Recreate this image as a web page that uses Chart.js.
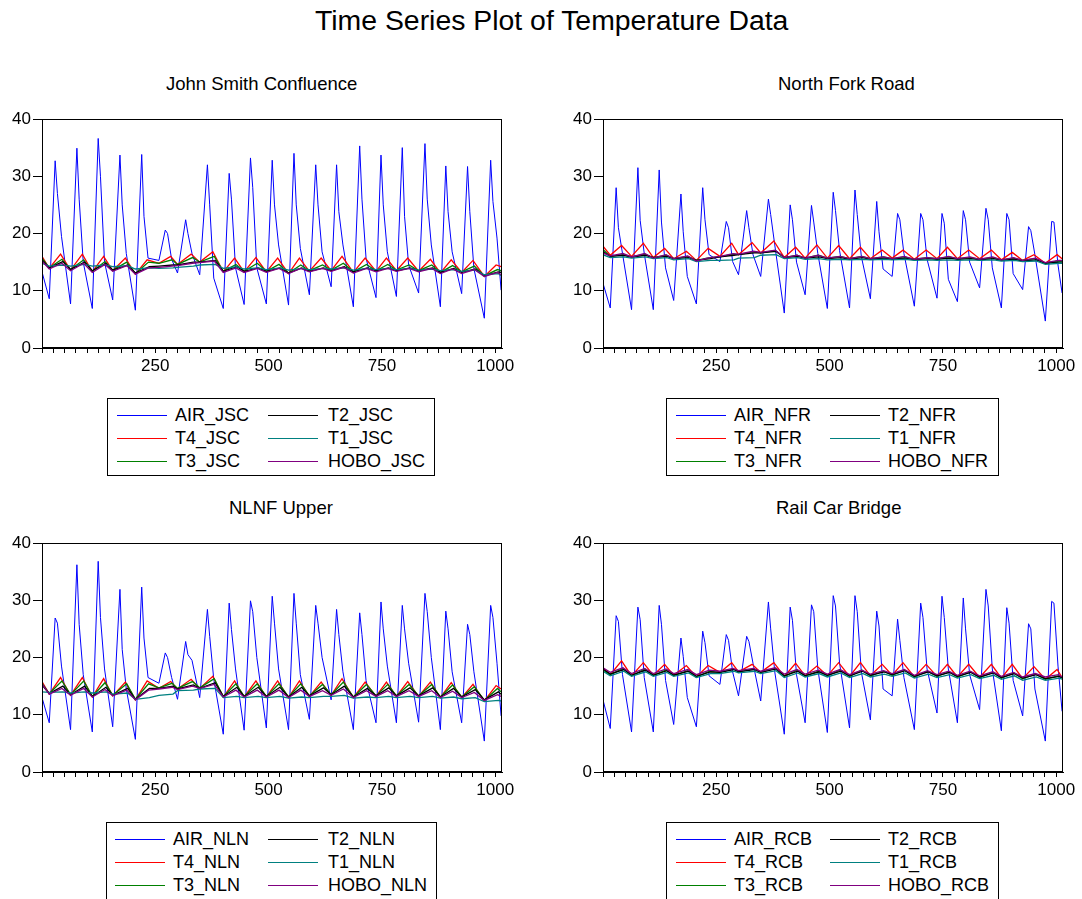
<!DOCTYPE html>
<html><head><meta charset="utf-8">
<script src="https://cdn.jsdelivr.net/npm/chart.js@4.4.0/dist/chart.umd.min.js"></script>
<style>
body{margin:0;background:#fff;width:1082px;height:899px;overflow:hidden;position:relative;font-family:"Liberation Sans",Arial,sans-serif;color:#000}
.t{position:absolute;white-space:nowrap;line-height:1}
canvas{position:absolute}
.leg{position:absolute;border:1px solid #000;box-sizing:border-box;background:#fff}
.ln{position:absolute;height:1px}
.tx{position:absolute;font-size:18px;line-height:18px;white-space:nowrap}
</style></head><body>
<div class="t" style="left:315px;top:6px;font-size:28.4px">Time Series Plot of Temperature Data</div>
<script>
// ---- shared time indices (half-hourly observations) ----
const troughIdx = [16,63,111,156,206,258,299,348,400,446,495,544,590,638,687,737,782,831,879,926,976];
const peakIdx   = [29,77,124,172,220,272,317,365,413,460,508,556,604,650,701,748,795,845,891,939,990];
const lastIdx = 1013;
const xTickLabels = [250,500,750,1000];
const yTickLabels = [0,10,20,30,40];

// ---- John Smith Confluence ----
const jscAirSE = [13.3,10.1];
const jscAirTrough = [8.6,7.7,6.9,8.4,6.6,15.3,13.1,12.8,6.9,7.6,7.7,7.5,9.3,10.7,7.2,8.8,9.0,9.6,7.2,9.5,5.2];
const jscAirPeak = [32.7,34.9,36.6,33.7,33.8,20.6,22.4,32.0,30.5,33.2,32.8,34.0,32.0,32.0,35.3,33.7,35.0,35.7,31.8,31.7,32.8];
const jscAirShoulder = [27,26,30,25,23,20,20,25,26,28,25,25,25,23.8,26,25,23,26,23.8,23.8,25.6];
const jscAirMid = [19.5,15,15,16.5,15.7,15.5,16.5,12.2,14,14,18,17.4,16.8,18,15.7,16.8,14.5,18,16.8,13.9,19.2];
const jscT4SE = [16.0,14.2];
const jscT4Hi = [16.4,16.4,16.0,15.7,15.4,16.0,16.4,16.8,15.7,15.8,15.7,15.7,15.7,16.0,15.7,15.7,15.7,15.5,15.4,15.3,14.5];
const jscT4Lo = [13.9,13.6,13.3,13.5,12.9,14.8,14.6,15.0,13.3,13.3,13.3,13.0,13.4,13.5,13.2,13.4,13.5,13.4,13.1,13.2,12.5];
const jscT3SE = [15.7,13.5];
const jscT3Hi = [15.5,15.4,15.1,15.0,15.0,15.4,15.8,16.0,14.6,14.8,14.6,14.5,14.5,14.8,14.6,14.6,14.5,14.5,14.4,14.3,13.7];
const jscT3Lo = [14.0,13.7,13.4,13.6,13.0,14.8,14.6,15.0,13.4,13.4,13.4,13.1,13.5,13.6,13.3,13.5,13.6,13.5,13.2,13.3,12.6];
const jscT2SE = [15.4,13.2];
const jscT2Hi = [15.1,15.0,14.8,14.5,14.2,14.5,15.0,15.3,14.2,14.0,14.0,14.0,14.0,14.2,14.0,14.0,14.0,14.0,13.9,13.8,13.3];
const jscT2Lo = [14.0,13.7,13.5,13.6,13.1,14.3,14.5,15.0,13.4,13.4,13.4,13.1,13.4,13.5,13.3,13.5,13.5,13.5,13.2,13.2,12.6];
const jscT1SE = [14.8,12.6];
const jscT1Hi = [14.5,14.6,14.5,14.4,14.0,14.0,14.3,14.6,14.2,14.0,14.0,13.9,13.9,14.0,13.9,13.9,13.9,13.8,13.7,13.6,13.0];
const jscT1Lo = [14.3,14.3,14.3,14.2,13.8,13.9,14.1,14.5,13.9,13.8,13.7,13.6,13.7,13.8,13.6,13.7,13.7,13.6,13.5,13.4,12.8];
const jscHoboSE = [15.2,12.8];
const jscHoboHi = [14.8,14.8,14.6,14.4,14.0,14.3,14.8,15.2,14.0,13.9,13.9,13.9,13.9,14.1,13.9,13.9,13.9,13.9,13.8,13.7,13.2];
const jscHoboLo = [13.8,13.5,13.2,13.4,12.9,14.1,14.4,14.9,13.2,13.2,13.2,13.0,13.3,13.4,13.1,13.3,13.4,13.3,13.0,13.0,12.5];

// ---- North Fork Road ----
const nfrAirSE = [11.3,9.6];
const nfrAirTrough = [7.0,6.7,6.7,8.3,7.7,15.1,12.8,12.5,6.1,9.3,6.9,7.0,8.6,12.5,7.3,8.7,8.1,10.5,7.0,10.2,4.7];
const nfrAirPeak = [28.0,31.5,31.1,26.9,28.0,22.1,24.0,26.0,25.0,24.9,27.2,27.6,25.6,23.5,23.5,23.5,24.0,24.4,23.5,21.2,22.1];
const nfrAirShoulder = [21,22.3,22,20.3,22.4,21,21,23.3,22.4,22,24,23.3,20.3,22.4,22.4,21.8,22.4,22.4,22.4,20.5,22];
const nfrAirMid = [16.5,16.5,14,12.5,16.3,15.1,16.3,18,15,16.5,17,16,13.8,16.5,15.5,12,15,14,13,16.3,14.5];
const nfrT4SE = [17.8,15.6];
const nfrT4Hi = [17.9,18.3,17.4,16.9,17.4,18.3,18.4,18.7,17.6,18.0,17.9,17.6,17.1,17.1,17.1,17.6,17.1,17.1,16.7,16.3,16.3];
const nfrT4Lo = [16.2,16.0,15.8,15.6,15.3,16.0,16.3,16.6,15.8,15.7,15.7,15.6,15.6,15.7,15.5,15.6,15.6,15.6,15.4,15.3,14.8];
const nfrT3SE = [17.2,15.2];
const nfrT3Hi = [16.3,16.4,16.2,16.0,15.8,16.4,16.8,17.0,16.2,16.2,16.0,16.0,15.9,15.9,15.8,15.9,15.8,15.8,15.7,15.6,15.2];
const nfrT3Lo = [16.0,15.9,15.8,15.6,15.3,15.9,16.3,16.6,15.8,15.7,15.7,15.6,15.6,15.6,15.5,15.6,15.6,15.5,15.4,15.3,14.8];
const nfrT2SE = [16.8,15.0];
const nfrT2Hi = [16.2,16.2,16.0,15.8,15.6,16.2,16.6,16.9,16.0,15.9,15.8,15.8,15.7,15.7,15.6,15.7,15.6,15.6,15.5,15.4,15.0];
const nfrT2Lo = [16.0,15.9,15.8,15.6,15.3,15.9,16.3,16.6,15.8,15.7,15.6,15.5,15.5,15.5,15.4,15.5,15.5,15.4,15.3,15.2,14.8];
const nfrT1SE = [16.3,14.8];
const nfrT1Hi = [15.9,15.9,15.8,15.6,15.3,15.4,15.8,16.3,15.8,15.6,15.5,15.5,15.5,15.5,15.4,15.4,15.4,15.4,15.3,15.2,14.8];
const nfrT1Lo = [15.8,15.7,15.6,15.4,15.1,15.3,15.7,16.2,15.6,15.5,15.4,15.4,15.4,15.4,15.3,15.3,15.3,15.3,15.2,15.1,14.6];
const nfrHoboSE = [16.6,15.3];
const nfrHoboHi = [16.5,16.5,16.3,16.1,15.8,16.5,16.9,17.1,16.2,16.2,16.0,16.0,15.9,16.0,15.8,16.0,15.9,15.9,15.8,15.7,15.3];
const nfrHoboLo = [16.1,15.9,15.7,15.6,15.2,16.0,16.4,16.7,15.8,15.7,15.7,15.6,15.6,15.6,15.5,15.6,15.6,15.5,15.4,15.3,14.9];

// ---- NLNF Upper ----
const nlnAirSE = [13.0,9.8];
const nlnAirTrough = [8.6,7.4,7.0,7.9,5.7,15.5,12.7,13.0,6.6,7.3,7.7,7.4,9.2,12.6,7.4,8.6,8.6,8.7,7.4,8.6,5.4];
const nlnAirPeak = [26.9,36.2,36.8,31.9,32.3,20.8,22.8,28.4,29.5,29.9,30.7,31.2,29.1,28.4,27.8,29.7,29.1,31.2,28.1,25.8,29.1];
const nlnAirShoulder = [26,25.8,27,21.4,23.4,20,20.5,23.7,24.9,28,26,26,26,24,24,25,25,28,25,24,27];
const nlnAirMid = [18.5,17,18,14.5,16.5,16.5,19.5,16.2,18,20,18,17,20,17.5,16,18.5,19,20,17.5,17.5,19];
const nlnT4SE = [15.8,14.5];
const nlnT4Hi = [16.5,16.5,16.3,15.7,15.9,15.8,16.2,16.7,15.9,15.9,15.9,15.9,15.7,16.3,15.7,15.7,15.8,15.7,15.6,15.3,15.1];
const nlnT4Lo = [13.6,13.4,13.1,13.3,12.6,14.6,14.5,14.6,13.1,13.1,13.1,13.0,13.2,13.4,13.0,13.2,13.2,13.2,13.0,13.0,12.4];
const nlnT3SE = [15.5,14.0];
const nlnT3Hi = [15.9,15.9,15.6,15.4,15.4,15.5,15.8,16.3,15.4,15.4,15.4,15.4,15.3,15.7,15.3,15.3,15.3,15.3,15.2,14.9,14.6];
const nlnT3Lo = [13.7,13.5,13.2,13.4,12.7,14.7,14.6,14.7,13.2,13.2,13.2,13.1,13.3,13.5,13.1,13.3,13.3,13.3,13.1,13.1,12.5];
const nlnT2SE = [15.2,13.6];
const nlnT2Hi = [15.0,15.0,14.8,14.6,14.6,15.0,15.2,15.6,14.8,14.8,14.8,14.8,14.7,15.0,14.6,14.7,14.7,14.7,14.6,14.4,14.0];
const nlnT2Lo = [13.7,13.5,13.2,13.4,12.7,14.6,14.5,14.6,13.2,13.2,13.2,13.1,13.3,13.5,13.1,13.3,13.3,13.3,13.1,13.1,12.6];
const nlnT1SE = [14.0,12.4];
const nlnT1Hi = [14.0,14.0,14.0,13.8,13.0,13.6,14.3,14.6,13.2,13.2,13.2,13.1,13.2,13.4,13.1,13.2,13.2,13.2,13.1,13.0,12.5];
const nlnT1Lo = [13.9,13.8,13.8,13.6,12.7,13.4,14.2,14.5,13.0,13.0,13.0,12.9,13.0,13.2,12.9,13.0,13.0,13.0,12.9,12.8,12.3];
const nlnHoboSE = [15.4,13.2];
const nlnHoboHi = [14.6,14.6,14.4,14.3,14.3,14.8,15.0,15.3,14.3,14.3,14.3,14.3,14.2,14.5,14.2,14.2,14.2,14.2,14.1,13.9,13.5];
const nlnHoboLo = [13.6,13.4,13.1,13.3,12.6,14.5,14.4,14.6,13.1,13.1,13.1,13.0,13.2,13.4,13.0,13.2,13.2,13.2,13.0,13.0,12.5];

// ---- Rail Car Bridge ----
const rcbAirSE = [12.6,10.6];
const rcbAirTrough = [7.6,7.0,7.0,8.3,7.9,15.3,13.3,12.4,6.6,8.6,6.9,7.7,9.1,13.3,7.4,10.3,8.6,10.9,7.2,9.8,5.4];
const rcbAirPeak = [27.3,28.8,29.1,23.4,24.6,24.0,23.7,29.7,28.8,29.2,30.8,30.8,28.1,26.7,29.5,30.7,30.4,31.9,28.7,25.9,29.8];
const rcbAirShoulder = [26.3,26.6,25.8,20.2,22.6,23,22.8,25,26.5,28,29,28,25.5,23,27,27,25,29,26,25,29.5];
const rcbAirMid = [17,16.5,16,13,16.8,17.5,19,17.5,17,18,19,17.5,14.5,16.5,18,18,17,18,16,14.5,18.5];
const rcbT4SE = [18.2,16.5];
const rcbT4Hi = [19.4,19.1,18.8,18.6,18.6,19.1,18.8,19.1,19.0,18.5,19.1,19.1,18.8,19.1,18.8,18.8,18.8,18.8,18.8,18.4,17.9];
const rcbT4Lo = [17.0,16.8,16.9,16.9,16.6,17.4,17.5,17.4,16.7,16.8,16.8,16.7,16.8,16.9,16.6,16.7,16.6,16.5,16.4,16.3,16.2];
const rcbT3SE = [17.8,16.4];
const rcbT3Hi = [18.1,18.0,17.8,17.7,17.6,18.0,18.0,18.1,17.8,17.6,17.8,17.8,17.6,17.8,17.6,17.5,17.5,17.4,17.3,17.1,16.8];
const rcbT3Lo = [17.0,16.8,16.9,16.9,16.6,17.4,17.5,17.4,16.7,16.8,16.8,16.7,16.8,16.9,16.6,16.7,16.6,16.5,16.4,16.3,16.2];
const rcbT2SE = [18.0,16.5];
const rcbT2Hi = [17.9,17.8,17.7,17.6,17.5,17.9,17.9,18.0,17.6,17.5,17.6,17.6,17.5,17.7,17.5,17.4,17.4,17.3,17.2,17.0,16.7];
const rcbT2Lo = [17.1,16.9,16.9,16.9,16.7,17.4,17.5,17.4,16.8,16.8,16.9,16.8,16.9,17.0,16.7,16.8,16.7,16.6,16.5,16.4,16.3];
const rcbT1SE = [17.6,16.2];
const rcbT1Hi = [17.6,17.5,17.4,17.3,17.2,17.6,17.6,17.7,17.3,17.2,17.3,17.2,17.1,17.3,17.1,17.0,17.0,16.9,16.8,16.6,16.4];
const rcbT1Lo = [16.8,16.7,16.7,16.7,16.5,17.2,17.3,17.2,16.5,16.6,16.6,16.5,16.6,16.7,16.4,16.5,16.4,16.3,16.2,16.0,16.0];
const rcbHoboSE = [18.2,16.6];
const rcbHoboHi = [18.2,18.1,18.0,17.9,17.8,18.1,18.1,18.2,17.9,17.8,17.9,17.8,17.7,17.9,17.7,17.6,17.6,17.5,17.4,17.2,17.0];
const rcbHoboLo = [17.4,17.2,17.2,17.2,17.0,17.6,17.7,17.6,17.1,17.1,17.1,17.0,17.1,17.2,16.9,17.0,16.9,16.8,16.7,16.6,16.6];

// index offsets (after the day's air peak) at which the readings above were taken
const airShoulderLag = 5, airMidLag = 14;
const streamLag = {T4:12, T3:15, T2:17, T1:17, HOBO:15};

function airPoints(se, tr, pk, sh, md){
  const p=[{x:0,y:se[0]}];
  for(let k=0;k<peakIdx.length;k++){
    p.push({x:troughIdx[k],y:tr[k]});
    p.push({x:peakIdx[k],y:pk[k]});
    p.push({x:peakIdx[k]+airShoulderLag,y:sh[k]});
    p.push({x:peakIdx[k]+airMidLag,y:md[k]});
  }
  p.push({x:lastIdx,y:se[1]});
  return p;
}
function streamPoints(se, lo, hi, lag){
  const p=[{x:0,y:se[0]}];
  for(let k=0;k<peakIdx.length;k++){
    p.push({x:troughIdx[k],y:lo[k]});
    p.push({x:peakIdx[k]+lag,y:hi[k]});
  }
  p.push({x:lastIdx,y:se[1]});
  return p;
}

const colors = {AIR:'#0000ff',T4:'#ff0000',T3:'#008000',T2:'#000000',T1:'#008080',HOBO:'#800080'};
const legendOrder = [['AIR','T2'],['T4','T1'],['T3','HOBO']];

const panels = [
 {code:'JSC', title:'John Smith Confluence', left:0, top:100, titleX:166, titleY:75,
  leg:{x:107,y:398,w:328,c1:[9,67],c2:[160,220]},
  air:[jscAirSE,jscAirTrough,jscAirPeak,jscAirShoulder,jscAirMid],
  s:{T4:[jscT4SE,jscT4Lo,jscT4Hi],T3:[jscT3SE,jscT3Lo,jscT3Hi],T2:[jscT2SE,jscT2Lo,jscT2Hi],T1:[jscT1SE,jscT1Lo,jscT1Hi],HOBO:[jscHoboSE,jscHoboLo,jscHoboHi]}},
 {code:'NFR', title:'North Fork Road', left:561, top:100, titleX:778, titleY:75,
  leg:{x:666,y:398,w:333,c1:[9,67],c2:[163,221]},
  air:[nfrAirSE,nfrAirTrough,nfrAirPeak,nfrAirShoulder,nfrAirMid],
  s:{T4:[nfrT4SE,nfrT4Lo,nfrT4Hi],T3:[nfrT3SE,nfrT3Lo,nfrT3Hi],T2:[nfrT2SE,nfrT2Lo,nfrT2Hi],T1:[nfrT1SE,nfrT1Lo,nfrT1Hi],HOBO:[nfrHoboSE,nfrHoboLo,nfrHoboHi]}},
 {code:'NLN', title:'NLNF Upper', left:0, top:524, titleX:229, titleY:499,
  leg:{x:106,y:822,w:331,c1:[8,66],c2:[161,221]},
  air:[nlnAirSE,nlnAirTrough,nlnAirPeak,nlnAirShoulder,nlnAirMid],
  s:{T4:[nlnT4SE,nlnT4Lo,nlnT4Hi],T3:[nlnT3SE,nlnT3Lo,nlnT3Hi],T2:[nlnT2SE,nlnT2Lo,nlnT2Hi],T1:[nlnT1SE,nlnT1Lo,nlnT1Hi],HOBO:[nlnHoboSE,nlnHoboLo,nlnHoboHi]}},
 {code:'RCB', title:'Rail Car Bridge', left:561, top:524, titleX:776, titleY:499,
  leg:{x:666,y:822,w:333,c1:[9,67],c2:[163,221]},
  air:[rcbAirSE,rcbAirTrough,rcbAirPeak,rcbAirShoulder,rcbAirMid],
  s:{T4:[rcbT4SE,rcbT4Lo,rcbT4Hi],T3:[rcbT3SE,rcbT3Lo,rcbT3Hi],T2:[rcbT2SE,rcbT2Lo,rcbT2Hi],T1:[rcbT1SE,rcbT1Lo,rcbT1Hi],HOBO:[rcbHoboSE,rcbHoboLo,rcbHoboHi]}}
];

const framePlugin = {id:'frame', afterDatasetsDraw(c){
  const a=c.chartArea, ctx=c.ctx; ctx.save(); ctx.strokeStyle='#000'; ctx.lineWidth=1;
  ctx.strokeRect(Math.round(a.left)+0.5, Math.round(a.top)+0.5, Math.round(a.right)-Math.round(a.left)-1, Math.round(a.bottom)-Math.round(a.top)-1);
  ctx.restore();}};

const FONT = '"Liberation Sans", Arial, sans-serif';
const rowY = [16,39,62];

panels.forEach(P=>{
  const t=document.createElement('div'); t.className='t'; t.textContent=P.title;
  t.style.cssText=`left:${P.titleX}px;top:${P.titleY}px;font-size:18.5px`;
  document.body.appendChild(t);

  const cv=document.createElement('canvas'); cv.width=520; cv.height=290;
  cv.style.left=P.left+'px'; cv.style.top=P.top+'px'; cv.style.width='520px'; cv.style.height='290px';
  document.body.appendChild(cv);

  const ds=[];
  ds.push({label:'AIR_'+P.code, data:airPoints(...P.air), borderColor:colors.AIR, borderWidth:1, order:6});
  const ord={T4:5,T3:4,T2:3,T1:2,HOBO:1};
  ['T4','T3','T2','T1','HOBO'].forEach(k=>{
    const [se,lo,hi]=P.s[k];
    ds.push({label:k+'_'+P.code, data:streamPoints(se,lo,hi,streamLag[k]), borderColor:colors[k], borderWidth:1.3, order:ord[k]});
  });

  new Chart(cv,{type:'line',data:{datasets:ds},options:{
    responsive:false, animation:false, events:[], devicePixelRatio:1,
    layout:{padding:{top:19,right:18,bottom:0,left:0}},
    plugins:{legend:{display:false},title:{display:false},tooltip:{enabled:false}},
    elements:{point:{radius:0},line:{tension:0}},
    scales:{
      x:{type:'linear',min:0,max:1015,
        afterFit(s){s.height=42;},
        grid:{drawOnChartArea:false,drawTicks:true,tickLength:5,tickColor:'#000',tickWidth:1},
        border:{display:true,color:'#000',width:1},
        ticks:{stepSize:25,autoSkip:false,maxRotation:0,minRotation:0,includeBounds:false,color:'#000',padding:3,
          font:{family:FONT,size:17},
          callback:(v)=> xTickLabels.includes(v)? String(v):''}},
      y:{type:'linear',min:0,max:40,
        afterFit(s){s.width=42;},
        grid:{drawOnChartArea:false,drawTicks:true,tickLength:9,tickColor:'#000'},
        border:{display:true,color:'#000',width:1},
        ticks:{stepSize:10,color:'#000',padding:2,font:{family:FONT,size:17},
          callback:(v)=> yTickLabels.includes(v)? String(v):''}}
    }},plugins:[framePlugin]});

  const L=P.leg;
  const box=document.createElement('div'); box.className='leg';
  box.style.cssText=`left:${L.x}px;top:${L.y}px;width:${L.w}px;height:78px`;
  legendOrder.forEach((row,r)=>{
    row.forEach((k,c)=>{
      const col=c===0?L.c1:L.c2;
      const ln=document.createElement('div'); ln.className='ln';
      ln.style.cssText=`left:${col[0]}px;top:${rowY[r]}px;width:50px;background:${colors[k]}`;
      const tx=document.createElement('div'); tx.className='tx';
      tx.style.cssText=`left:${col[1]}px;top:${rowY[r]-9}px`;
      tx.textContent=k+'_'+P.code;
      box.appendChild(ln); box.appendChild(tx);
    });
  });
  document.body.appendChild(box);
});
</script>
</body></html>
